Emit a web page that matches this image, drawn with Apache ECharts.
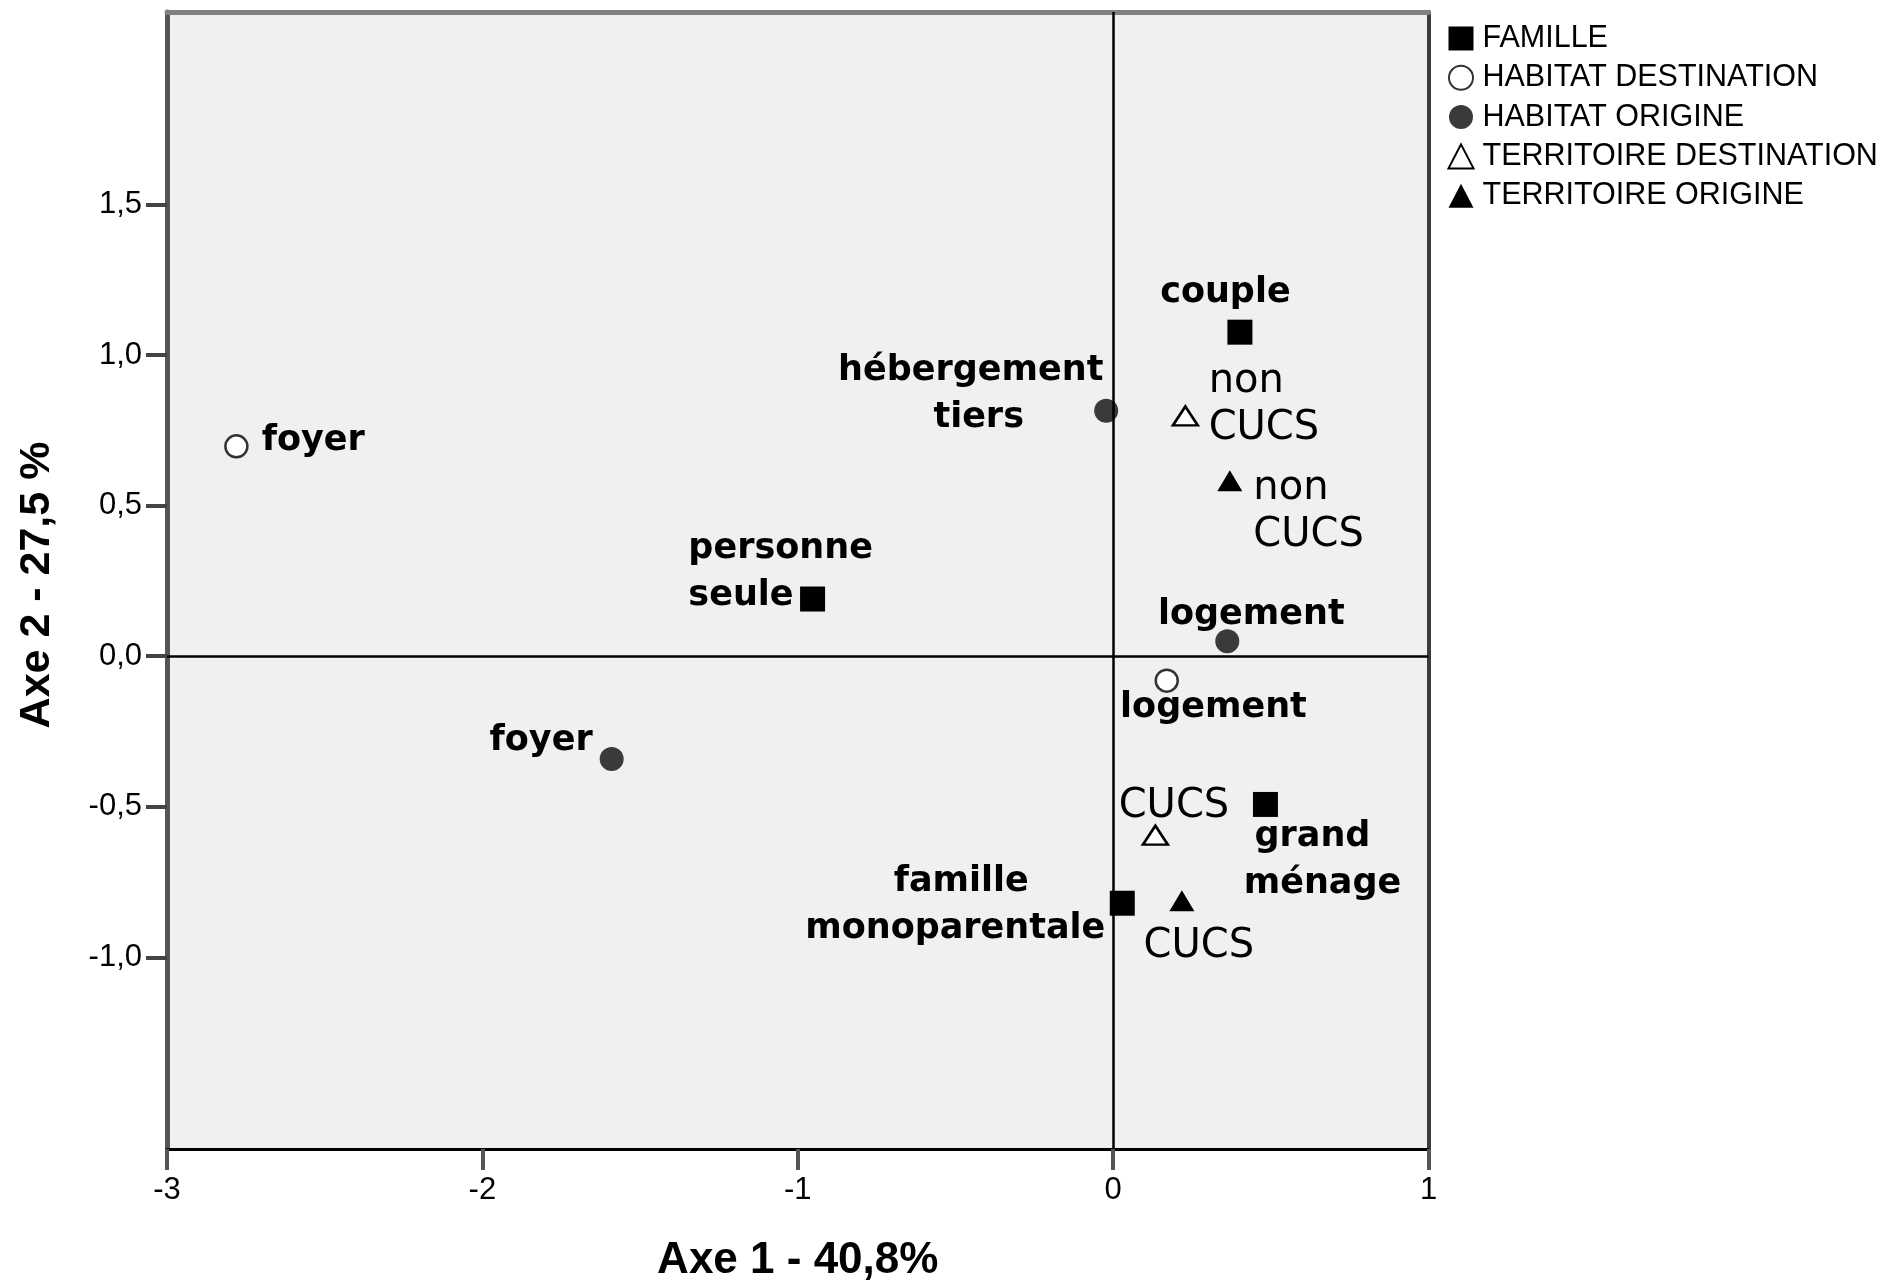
<!DOCTYPE html>
<html><head><meta charset="utf-8">
<script src="https://cdn.jsdelivr.net/npm/echarts@6/dist/echarts.min.js"></script>
<style>html,body{margin:0;padding:0;background:#fff}#chart{width:1883px;height:1280px}</style>
</head><body><div id="chart"></div>
<script>
// ---- data ----
const familleNames = ['couple', 'personne\nseule', 'grand\nménage', 'famille\nmonoparentale'];
const familleX = [0.402, -0.953, 0.483, 0.029];
const familleY = [1.076, 0.190, -0.492, -0.820];

const habitatDestNames = ['foyer', 'logement'];
const habitatDestX = [-2.780, 0.170];
const habitatDestY = [0.697, -0.081];

const habitatOrigNames = ['hébergement\ntiers', 'logement', 'foyer'];
const habitatOrigX = [-0.022, 0.362, -1.590];
const habitatOrigY = [0.815, 0.050, -0.341];

const terrDestNames = ['non\nCUCS', 'CUCS'];
const terrDestX = [0.229, 0.134];
const terrDestY = [0.798, -0.594];

const terrOrigNames = ['non\nCUCS', 'CUCS'];
const terrOrigX = [0.370, 0.218];
const terrOrigY = [0.583, -0.812];

const xTicks = [-3, -2, -1, 0, 1];
const yTicks = [-1, -0.5, 0, 0.5, 1, 1.5];
const legendNames = ['FAMILLE', 'HABITAT DESTINATION', 'HABITAT ORIGINE', 'TERRITOIRE DESTINATION', 'TERRITOIRE ORIGINE'];
const xTitle = 'Axe 1 - 40,8%';
const yTitle = 'Axe 2 - 27,5 %';

// ---- label placement (layout, not data): [align, dx, dy, per-line x shifts] from the point centre ----
const labelPlace = {
  'FAMILLE': [['center', -14.5, -39.3], ['left', -124.2, -27], ['center', 51, 56, [-4, 6]], ['center', -167, 2, [6, 0]]],
  'HABITAT DESTINATION': [['left', 25.4, -5.7], ['center', 46.7, 27.5]],
  'HABITAT ORIGINE': [['center', -135.5, -16, [0, 8]], ['center', 24, -26.4], ['right', -19, -18]],
  'TERRITOIRE DESTINATION': [['left', 23.3, -11], ['left', -36.7, -29]],
  'TERRITOIRE ORIGINE': [['left', 23.5, 31], ['left', -38.3, 45.9]]
};

const boldLabel = { fontFamily: 'DejaVu Sans', fontWeight: 'bold', fontSize: 35, lineHeight: 47, color: '#000' };
const regLabel = { fontFamily: 'DejaVu Sans', fontWeight: 'normal', fontSize: 40, lineHeight: 47, color: '#000' };

function makeData(name, xs, ys, names) {
  return xs.map((x, i) => {
    const p = labelPlace[name][i];
    const label = { align: p[0], offset: [p[1], p[2]] };
    if (p[3]) {
      const lines = names[i].split('\n');
      const rich = {};
      label.formatter = lines.map((ln, k) => '{l' + k + '|' + ln + '}').join('\n');
      lines.forEach((ln, k) => {
        const s = p[3][k] || 0;
        rich['l' + k] = { padding: s >= 0 ? [0, 0, 0, 2 * s] : [0, -2 * s, 0, 0] };
      });
      label.rich = rich;
    }
    return { value: [x, ys[i]], name: names[i], label: label };
  });
}

function mkSeries(name, xs, ys, names, symbol, size, itemStyle, lbl) {
  return {
    name: name, type: 'scatter', symbol: symbol, symbolSize: size,
    itemStyle: Object.assign({ opacity: 1 }, itemStyle),
    data: makeData(name, xs, ys, names),
    label: Object.assign({ show: true, position: ['50%', '50%'], verticalAlign: 'middle', formatter: '{b}', textBorderWidth: 0, opacity: 1 }, lbl),
    emphasis: { disabled: true },
    z: 3
  };
}

const series = [
  mkSeries('FAMILLE', familleX, familleY, familleNames, 'rect', 25, { color: '#000' }, boldLabel),
  mkSeries('HABITAT DESTINATION', habitatDestX, habitatDestY, habitatDestNames, 'circle', 22, { color: '#fff', borderColor: '#333', borderWidth: 2.5 }, boldLabel),
  mkSeries('HABITAT ORIGINE', habitatOrigX, habitatOrigY, habitatOrigNames, 'circle', 24, { color: '#3a3a3a' }, boldLabel),
  mkSeries('TERRITOIRE DESTINATION', terrDestX, terrDestY, terrDestNames, 'triangle', [25, 19], { color: '#fff', borderColor: '#000', borderWidth: 2.5 }, regLabel),
  mkSeries('TERRITOIRE ORIGINE', terrOrigX, terrOrigY, terrOrigNames, 'triangle', [25, 21], { color: '#000' }, regLabel)
];
series[0].markLine = {
  silent: true, symbol: ['none', 'none'], label: { show: false }, animation: false,
  lineStyle: { color: '#000', width: 2.5, type: 'solid', opacity: 1 },
  emphasis: { disabled: true },
  data: [{ xAxis: 0 }, { yAxis: 0 }]
};

const yMin = -1.636, yMax = 2.139;
const tickFont = { fontFamily: 'Liberation Sans', fontSize: 31, color: '#000' };
const titleFont = { fontFamily: 'Liberation Sans', fontWeight: 'bold', fontSize: 44, color: '#000' };

const option = {
  backgroundColor: '#fff',
  animation: false,
  grid: { left: 167, right: 454.5, top: 12, bottom: 131, show: true, backgroundColor: '#f0f0f0', borderWidth: 0, outerBoundsMode: 'none', containLabel: false },
  legend: {
    orient: 'vertical', left: 1442.5, top: 18, itemWidth: 25, itemHeight: 24, itemGap: 8.3,
    data: legendNames, selectedMode: false,
    textStyle: { fontFamily: 'Liberation Sans', fontSize: 30.5, color: '#000', padding: [0, 0, 0, 4] }
  },
  xAxis: [
    {
      type: 'value', position: 'bottom', min: -3, max: 1, interval: 1,
      axisLine: { show: true, onZero: false, lineStyle: { color: '#000', width: 3 } },
      axisTick: { show: true, length: 21, customValues: xTicks, lineStyle: { color: '#555', width: 4 } },
      axisLabel: Object.assign({ margin: 26, customValues: xTicks, formatter: v => String(v) }, tickFont),
      splitLine: { show: false },
      name: xTitle, nameLocation: 'middle', nameGap: 90, nameTextStyle: titleFont
    },
    {
      type: 'value', position: 'top', min: -3, max: 1, interval: 1,
      axisLine: { show: true, onZero: false, lineStyle: { color: '#808080', width: 5 } },
      axisTick: { show: false }, axisLabel: { show: false }, splitLine: { show: false }
    }
  ],
  yAxis: [
    {
      type: 'value', position: 'left', min: yMin, max: yMax,
      axisLine: { show: true, onZero: false, lineStyle: { color: '#555', width: 5 } },
      axisTick: { show: true, length: 21, customValues: yTicks, lineStyle: { color: '#444', width: 4 } },
      axisLabel: Object.assign({ margin: 25, customValues: yTicks, formatter: v => v.toFixed(1).replace('.', ',') }, tickFont),
      splitLine: { show: false },
      name: yTitle, nameLocation: 'middle', nameRotate: 90, nameGap: 108,
      nameTextStyle: Object.assign({ padding: [0, 9, 0, 0] }, titleFont, { fontSize: 43 })
    },
    {
      type: 'value', position: 'right', min: yMin, max: yMax,
      axisLine: { show: true, onZero: false, lineStyle: { color: '#3c3c3c', width: 4 } },
      axisTick: { show: false }, axisLabel: { show: false }, splitLine: { show: false }
    }
  ],
  series: series
};

const chart = echarts.init(document.getElementById('chart'), null, { renderer: 'canvas' });
chart.setOption(option);
</script>
</body></html>
